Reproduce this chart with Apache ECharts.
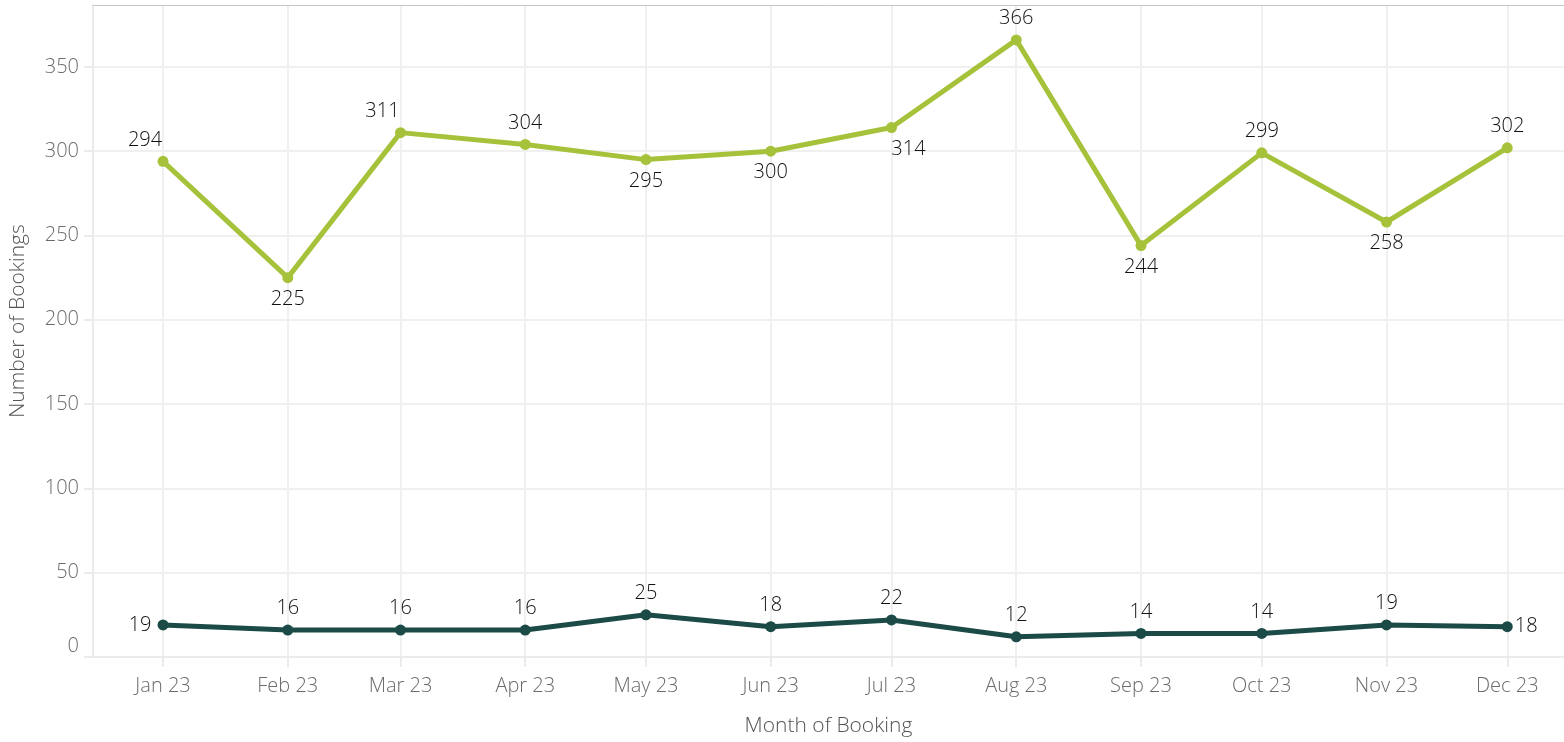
<!DOCTYPE html>
<html>
<head>
<meta charset="utf-8">
<script src="https://cdn.jsdelivr.net/npm/echarts@6/dist/echarts.min.js"></script>
<style>html,body{margin:0;padding:0;background:#fff}#c{width:1564px;height:742px}</style>
</head>
<body>
<div id="c"></div>
<script>
// ---- data ----
const monthDates = ['2023-01-01','2023-02-01','2023-03-01','2023-04-01','2023-05-01','2023-06-01',
                    '2023-07-01','2023-08-01','2023-09-01','2023-10-01','2023-11-01','2023-12-01'];
const tickLabels = ['Jan 23','Feb 23','Mar 23','Apr 23','May 23','Jun 23',
                    'Jul 23','Aug 23','Sep 23','Oct 23','Nov 23','Dec 23'];
const seriesA = [294, 225, 311, 304, 295, 300, 314, 366, 244, 299, 258, 302];
const seriesB = [19, 16, 16, 16, 25, 18, 22, 12, 14, 14, 19, 18];
const yTicks = [0, 50, 100, 150, 200, 250, 300, 350];
const xTitle = 'Month of Booking';
const yTitle = 'Number of Bookings';

// ---- label placement (style only) ----
const posA = [['top',-18],['bottom',0],['top',-18],['top',0],['bottom',0],['bottom',0],
              ['bottom',17],['top',0],['bottom',0],['top',0],['bottom',0],['top',0]];
const posB = [['left',0],['top',0],['top',0],['top',0],['top',0],['top',0],
              ['top',0],['top',0],['top',0],['top',0],['top',0],['right',-4]];

const FONT = '"Open Sans", "DejaVu Sans", sans-serif';
const DAY = 86400000;
const toDay = s => { const p = s.split('-').map(Number); return Date.UTC(p[0], p[1]-1, p[2]) / DAY; };
const xs = monthDates.map(toDay);
const xMin = xs[0] - 17.4;
const xMax = xs[xs.length-1] + 14.1;

function buildData(vals, pos) {
  return vals.map((v, i) => ({
    value: [xs[i], v],
    label: { position: pos[i][0], offset: [pos[i][1], 0] }
  }));
}

const labelStyle = { show: true, color: '#111', fontFamily: FONT, fontSize: 20, fontWeight: 300, distance: 6,
                     formatter: p => p.value[1] };

const chart = echarts.init(document.getElementById('c'));
chart.setOption({
  animation: false,
  backgroundColor: '#fff',
  grid: { left: 91, right: 0, top: 5, bottom: 83, containLabel: false },
  xAxis: [{
    type: 'value', min: xMin, max: xMax,
    name: xTitle, nameLocation: 'middle', nameGap: 59,
    nameTextStyle: { color: '#555', fontFamily: FONT, fontSize: 21, fontWeight: 300 },
    axisLine: { show: true, lineStyle: { color: '#ebebeb', width: 2 } },
    axisTick: { show: true, length: 10, lineStyle: { color: '#ebebeb', width: 2 }, customValues: xs },
    axisLabel: { customValues: xs, color: '#6b6b6b', fontFamily: FONT, fontSize: 20, fontWeight: 300, margin: 19,
                 formatter: v => tickLabels[xs.indexOf(v)] || '' },
    splitLine: { show: true, lineStyle: { color: '#f0f0f0', width: 2 } }
  }, {
    type: 'value', min: xMin, max: xMax, position: 'top',
    axisLine: { show: true, lineStyle: { color: '#c8c8c8', width: 1 } },
    axisTick: { show: false }, axisLabel: { show: false }, splitLine: { show: false }
  }],
  yAxis: {
    type: 'value', min: 0, max: 386.7,
    name: yTitle, nameLocation: 'middle', nameGap: 64,
    nameTextStyle: { color: '#555', fontFamily: FONT, fontSize: 21, fontWeight: 300, padding: [0, 0, 0, 20] },
    axisLine: { show: true, lineStyle: { color: '#ebebeb', width: 2 } },
    axisTick: { show: true, length: 9, lineStyle: { color: '#ebebeb', width: 2 }, customValues: yTicks },
    axisLabel: { customValues: yTicks, color: '#6b6b6b', fontFamily: FONT, fontSize: 20, fontWeight: 300, margin: 14,
                 formatter: v => v === 0 ? '{z|0}' : String(v),
                 rich: { z: { color: '#6b6b6b', fontFamily: FONT, fontSize: 20, fontWeight: 300, padding: [0, 0, 22, 0] } } },
    splitLine: { show: true, lineStyle: { color: '#f0f0f0', width: 2 } }
  },
  series: [{
    type: 'line', name: 'A', data: buildData(seriesA, posA),
    symbol: 'circle', symbolSize: 11, showSymbol: true,
    lineStyle: { color: '#a6c23a', width: 5 }, itemStyle: { color: '#a6c23a' },
    label: labelStyle, z: 3
  }, {
    type: 'line', name: 'B', data: buildData(seriesB, posB),
    symbol: 'circle', symbolSize: 11, showSymbol: true,
    lineStyle: { color: '#1b4a47', width: 5 }, itemStyle: { color: '#1b4a47' },
    label: labelStyle, z: 3
  }]
});
</script>
</body>
</html>
